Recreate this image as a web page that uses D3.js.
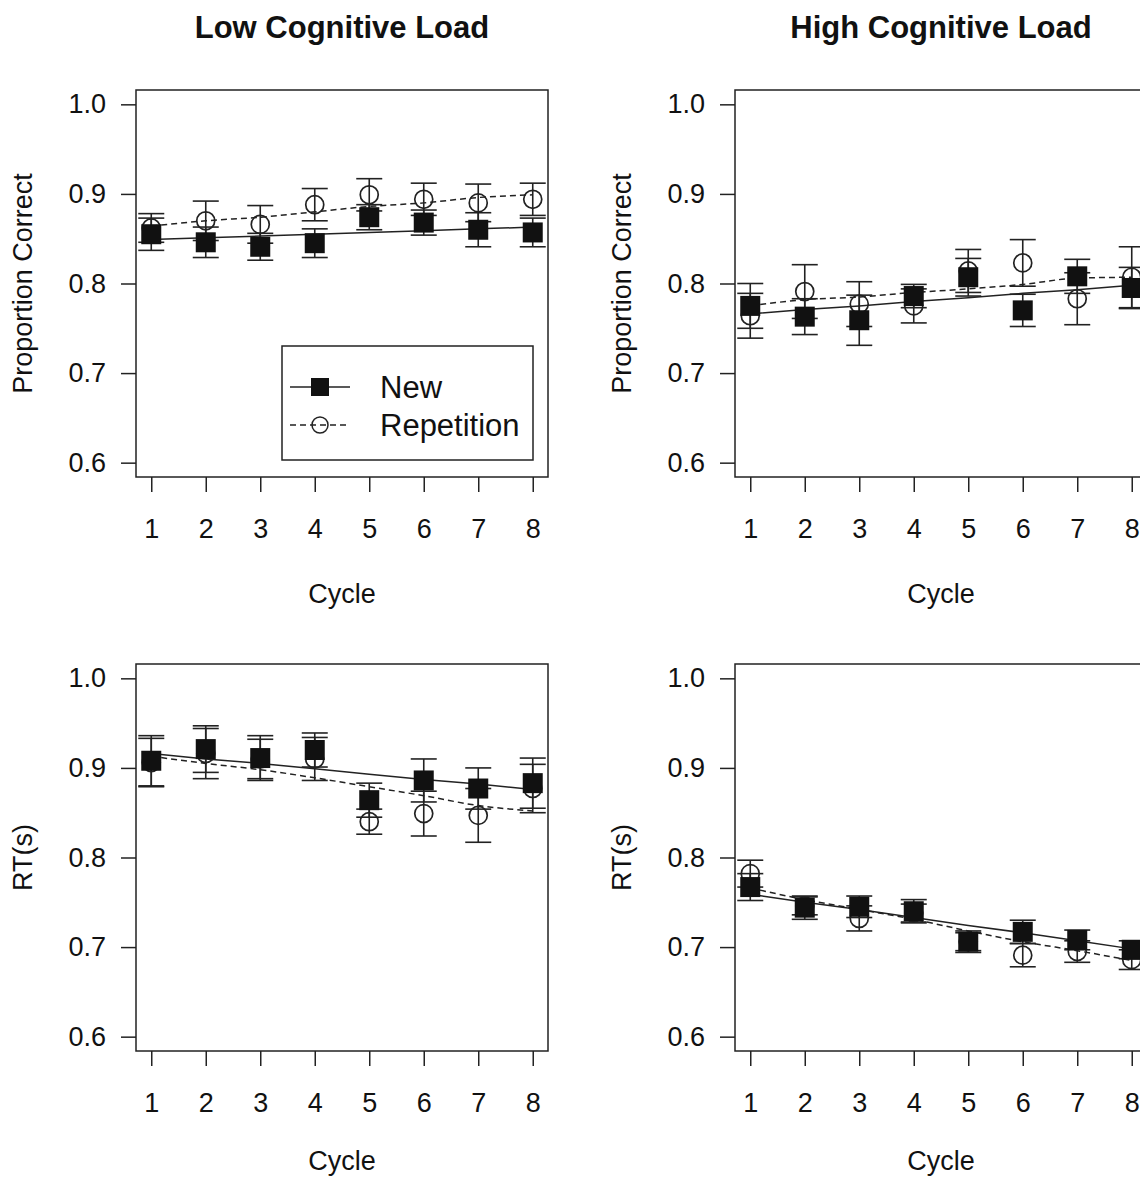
<!DOCTYPE html>
<html>
<head>
<meta charset="utf-8">
<script src="https://cdn.jsdelivr.net/npm/d3@7"></script>
<style>
  body { margin: 0; background: #fff; }
  text { font-family: "Liberation Sans", Arial, sans-serif; fill: #111; }
</style>
</head>
<body>
<svg id="chart" width="1140" height="1180"></svg>
<script>
// categories and tick labels
const cycles = [1, 2, 3, 4, 5, 6, 7, 8];
const yTicks = [0.6, 0.7, 0.8, 0.9, 1.0];
const panelTitles = ["Low Cognitive Load", "High Cognitive Load"];
const yTitles = ["Proportion Correct", "RT(s)"];
const xTitle = "Cycle";
const legendLabels = ["New", "Repetition"];

// low load, proportion correct
const lowPcNew = [0.855, 0.846, 0.841, 0.845, 0.874, 0.868, 0.860, 0.857];
const lowPcNewSe = [0.018, 0.017, 0.015, 0.016, 0.014, 0.014, 0.019, 0.016];
const lowPcRep = [0.862, 0.870, 0.866, 0.888, 0.899, 0.894, 0.890, 0.894];
const lowPcRepSe = [0.016, 0.022, 0.021, 0.018, 0.018, 0.018, 0.021, 0.018];
const lowPcNewFit = [0.849, 0.851, 0.853, 0.855, 0.857, 0.859, 0.861, 0.863];
const lowPcRepFit = [0.864, 0.870, 0.874, 0.880, 0.886, 0.890, 0.896, 0.899];

// high load, proportion correct
const highPcNew = [0.775, 0.763, 0.759, 0.786, 0.807, 0.770, 0.808, 0.795];
const highPcNewSe = [0.025, 0.020, 0.028, 0.013, 0.021, 0.018, 0.019, 0.023];
const highPcRep = [0.764, 0.791, 0.777, 0.775, 0.814, 0.823, 0.783, 0.807];
const highPcRepSe = [0.025, 0.030, 0.025, 0.019, 0.024, 0.026, 0.029, 0.034];
const highPcNewFit = [0.766, 0.771, 0.775, 0.780, 0.784, 0.789, 0.793, 0.798];
const highPcRepFit = [0.775, 0.782, 0.785, 0.790, 0.794, 0.799, 0.806, 0.807];

// low load, RT
const lowRtNew = [0.908, 0.921, 0.911, 0.920, 0.864, 0.886, 0.877, 0.883];
const lowRtNewSe = [0.028, 0.026, 0.025, 0.019, 0.019, 0.024, 0.023, 0.028];
const lowRtRep = [0.906, 0.916, 0.910, 0.910, 0.840, 0.849, 0.847, 0.877];
const lowRtRepSe = [0.027, 0.028, 0.022, 0.024, 0.014, 0.025, 0.030, 0.027];
const lowRtNewFit = [0.916, 0.910, 0.905, 0.899, 0.893, 0.887, 0.882, 0.876];
const lowRtRepFit = [0.913, 0.905, 0.898, 0.889, 0.879, 0.869, 0.858, 0.852];

// high load, RT
const highRtNew = [0.767, 0.744, 0.745, 0.740, 0.706, 0.717, 0.708, 0.697];
const highRtNewSe = [0.015, 0.013, 0.012, 0.013, 0.012, 0.013, 0.011, 0.010];
const highRtRep = [0.782, 0.746, 0.732, 0.738, 0.706, 0.691, 0.695, 0.686];
const highRtRepSe = [0.015, 0.010, 0.014, 0.010, 0.010, 0.013, 0.012, 0.011];
const highRtNewFit = [0.759, 0.750, 0.742, 0.733, 0.724, 0.716, 0.707, 0.698];
const highRtRepFit = [0.766, 0.753, 0.742, 0.731, 0.718, 0.706, 0.696, 0.685];

const panels = [
  {col: 0, row: 0, m1: lowPcNew, e1: lowPcNewSe, m2: lowPcRep, e2: lowPcRepSe, f1: lowPcNewFit, f2: lowPcRepFit, legend: true},
  {col: 1, row: 0, m1: highPcNew, e1: highPcNewSe, m2: highPcRep, e2: highPcRepSe, f1: highPcNewFit, f2: highPcRepFit},
  {col: 0, row: 1, m1: lowRtNew, e1: lowRtNewSe, m2: lowRtRep, e2: lowRtRepSe, f1: lowRtNewFit, f2: lowRtRepFit},
  {col: 1, row: 1, m1: highRtNew, e1: highRtNewSe, m2: highRtRep, e2: highRtRepSe, f1: highRtNewFit, f2: highRtRepFit}
];

// layout
const colX = [136, 735], boxW = 412;
const rowY = [90, 664], boxH = 387;
const xTitleGap = [126, 119];
const ink = "#222";

var svg = d3.select("#chart");

// panel titles
panelTitles.forEach((t, i) => {
  svg.append("text")
    .attr("x", colX[i] + boxW / 2)
    .attr("y", 38)
    .attr("text-anchor", "middle")
    .style("font-size", "31px")
    .style("font-weight", "bold")
    .text(t);
});

function drawPanel(p) {
  const x0 = colX[p.col], y0 = rowY[p.row];
  const x = d3.scaleLinear().domain([0.72, 8.28]).range([x0, x0 + boxW]);
  const y = d3.scaleLinear().domain([0.584, 1.016]).range([y0 + boxH, y0]);
  const g = svg.append("g");

  // axes
  g.append("g")
    .attr("transform", `translate(${x0},0)`)
    .call(d3.axisLeft(y).tickValues(yTicks).tickSize(15).tickPadding(15).tickFormat(d3.format(".1f")))
    .call(a => a.select(".domain").remove())
    .call(a => a.selectAll("line").attr("stroke", ink).attr("stroke-width", 1.5))
    .call(a => a.selectAll("text").style("font-size", "27px").attr("fill", "#111").style("font-family", "Liberation Sans, Arial"));

  g.append("g")
    .attr("transform", `translate(0,${y0 + boxH})`)
    .call(d3.axisBottom(x).tickValues(cycles).tickSize(15).tickPadding(27).tickFormat(d3.format("d")))
    .call(a => a.select(".domain").remove())
    .call(a => a.selectAll("line").attr("stroke", ink).attr("stroke-width", 1.5))
    .call(a => a.selectAll("text").style("font-size", "27px").attr("fill", "#111").style("font-family", "Liberation Sans, Arial"));

  // box
  g.append("rect")
    .attr("x", x0).attr("y", y0).attr("width", boxW).attr("height", boxH)
    .attr("fill", "none").attr("stroke", ink).attr("stroke-width", 1.5);

  // axis titles
  g.append("text")
    .attr("x", x0 + boxW / 2)
    .attr("y", y0 + boxH + xTitleGap[p.row])
    .attr("text-anchor", "middle")
    .style("font-size", "27px")
    .text(xTitle);
  g.append("text")
    .attr("transform", `translate(${x0 - 104},${y0 + boxH / 2}) rotate(-90)`)
    .attr("text-anchor", "middle")
    .style("font-size", "27px")
    .text(yTitles[p.row]);

  // fitted lines
  const lineFit = d3.line().x((d, i) => x(cycles[i])).y(d => y(d));
  g.append("path").datum(p.f1)
    .attr("d", lineFit)
    .attr("fill", "none").attr("stroke", ink).attr("stroke-width", 1.5);
  g.append("path").datum(p.f2)
    .attr("d", lineFit.curve(d3.curveMonotoneX))
    .attr("fill", "none").attr("stroke", ink).attr("stroke-width", 1.5)
    .attr("stroke-dasharray", "6,4");

  // error bars
  [[p.m2, p.e2], [p.m1, p.e1]].forEach(([m, e]) => {
    const eb = g.append("g").selectAll("g").data(cycles).enter().append("g")
      .attr("stroke", ink).attr("stroke-width", 1.6);
    eb.append("line")
      .attr("x1", d => x(d)).attr("x2", d => x(d))
      .attr("y1", (d, i) => y(m[i] - e[i])).attr("y2", (d, i) => y(m[i] + e[i]));
    eb.append("line")
      .attr("x1", d => x(d) - 13).attr("x2", d => x(d) + 13)
      .attr("y1", (d, i) => y(m[i] + e[i])).attr("y2", (d, i) => y(m[i] + e[i]));
    eb.append("line")
      .attr("x1", d => x(d) - 13).attr("x2", d => x(d) + 13)
      .attr("y1", (d, i) => y(m[i] - e[i])).attr("y2", (d, i) => y(m[i] - e[i]));
  });

  // repetition points (open circles)
  g.append("g").selectAll("circle").data(cycles).enter().append("circle")
    .attr("cx", d => x(d)).attr("cy", (d, i) => y(p.m2[i]))
    .attr("r", 9)
    .attr("fill", "none").attr("stroke", ink).attr("stroke-width", 1.7);

  // new points (filled squares)
  const s = 20;
  g.append("g").selectAll("rect").data(cycles).enter().append("rect")
    .attr("x", d => x(d) - s / 2).attr("y", (d, i) => y(p.m1[i]) - s / 2)
    .attr("width", s).attr("height", s)
    .attr("fill", "#111");

  if (p.legend) {
    const lg = g.append("g").attr("transform", "translate(282,346)");
    lg.append("rect").attr("width", 251).attr("height", 114)
      .attr("fill", "#fff").attr("stroke", ink).attr("stroke-width", 1.5);
    legendLabels.forEach((lab, i) => {
      const ly = 41 + i * 38;
      lg.append("line").attr("x1", 8).attr("x2", 68).attr("y1", ly).attr("y2", ly)
        .attr("stroke", ink).attr("stroke-width", 1.5)
        .attr("stroke-dasharray", i ? "6,4" : null);
      if (i === 0) {
        lg.append("rect").attr("x", 38 - 9).attr("y", ly - 9).attr("width", 18).attr("height", 18).attr("fill", "#111");
      } else {
        lg.append("circle").attr("cx", 38).attr("cy", ly).attr("r", 8)
          .attr("fill", "none").attr("stroke", ink).attr("stroke-width", 1.5);
      }
      lg.append("text").attr("x", 98).attr("y", ly + 11)
        .style("font-size", "31px").text(lab);
    });
  }
}

panels.forEach(drawPanel);
</script>
</body>
</html>
